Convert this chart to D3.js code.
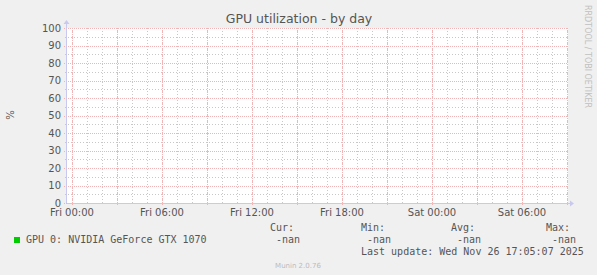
<!DOCTYPE html>
<meta charset="utf-8">
<style>
body { margin: 0; background: #f0f0f0; }
svg { display: block; font-family: "DejaVu Sans", sans-serif; }
.mono { font-family: "DejaVu Sans Mono", monospace; font-size: 10px; fill: #555; }
</style>
<svg width="597" height="275"></svg>
<script src="https://d3js.org/d3.v7.min.js"></script>
<script>

// data
var timeDomain = [new Date(2025, 10, 20, 23, 40), new Date(2025, 10, 22, 9, 4)]
var yTicks = [0, 10, 20, 30, 40, 50, 60, 70, 80, 90, 100]
var gpuTimes = []   // no samples: every value is nan
var gpuValues = []
var seriesName = "GPU 0: NVIDIA GeForce GTX 1070"
var statLabels = ["Cur:", "Min:", "Avg:", "Max:"]
var statValues = ["-nan", "-nan", "-nan", "-nan"]

var svg = d3.select("svg")
var pLeft = 67, pRight = 568, pTop = 28, pBottom = 203

var x = d3.scaleTime().domain(timeDomain).range([pLeft, pRight])
var y = d3.scaleLinear().domain([0, 100]).range([pBottom, pTop])

svg.append("rect").attr("x", pLeft).attr("y", pTop)
  .attr("width", pRight - pLeft).attr("height", pBottom - pTop).attr("fill", "#fff")

// minor grid
var hours = x.ticks(d3.timeHour.every(1))
svg.append("g").selectAll("line").data(hours).enter().append("line")
  .attr("x1", function(d){ return Math.round(x(d)) + 0.5 }).attr("x2", function(d){ return Math.round(x(d)) + 0.5 })
  .attr("y1", pTop).attr("y2", pBottom)
  .attr("stroke", "#c8c8c8").attr("stroke-dasharray", "1,2")
svg.append("g").selectAll("line").data(d3.range(5, 100, 10)).enter().append("line")
  .attr("x1", pLeft - 2).attr("x2", pRight)
  .attr("y1", function(d){ return Math.round(y(d)) + 0.5 }).attr("y2", function(d){ return Math.round(y(d)) + 0.5 })
  .attr("stroke", "#c8c8c8").attr("stroke-dasharray", "1,2")

// major grid
var major = x.ticks(d3.timeHour.every(3))
svg.append("g").selectAll("line").data(major).enter().append("line")
  .attr("x1", function(d){ return Math.round(x(d)) + 0.5 }).attr("x2", function(d){ return Math.round(x(d)) + 0.5 })
  .attr("y1", pTop).attr("y2", pBottom + 3)
  .attr("stroke", "#f0b4b4").attr("stroke-dasharray", "1,1")
svg.append("g").selectAll("line").data(yTicks).enter().append("line")
  .attr("x1", pLeft - 3).attr("x2", pRight)
  .attr("y1", function(d){ return Math.round(y(d)) + 0.5 }).attr("y2", function(d){ return Math.round(y(d)) + 0.5 })
  .attr("stroke", "#f0b4b4").attr("stroke-dasharray", "1,1")

// series line (all nan -> nothing drawn)
var line = d3.line()
  .defined(function(d){ return !isNaN(d[1]) })
  .x(function(d){ return x(d[0]) }).y(function(d){ return y(d[1]) })
svg.append("path").datum(d3.zip(gpuTimes, gpuValues))
  .attr("d", line).attr("fill", "none").attr("stroke", "#00cc00")

// axes
var axisCol = "#c8c8f0"
svg.append("line").attr("x1", pLeft - 0.5).attr("x2", pLeft - 0.5).attr("y1", pBottom).attr("y2", pTop - 4)
  .attr("stroke", axisCol)
svg.append("line").attr("x1", pLeft).attr("x2", pRight + 2).attr("y1", pBottom + 0.5).attr("y2", pBottom + 0.5)
  .attr("stroke", axisCol)
svg.append("path").attr("d", "M" + (pLeft - 3.5) + "," + (pTop - 4) + "L" + (pLeft - 0.5) + "," + (pTop - 8) + "L" + (pLeft + 2.5) + "," + (pTop - 4) + "Z")
  .attr("fill", axisCol)
svg.append("path").attr("d", "M" + (pRight + 2) + "," + (pBottom - 2.5) + "L" + (pRight + 6) + "," + (pBottom + 0.5) + "L" + (pRight + 2) + "," + (pBottom + 3.5) + "Z")
  .attr("fill", axisCol)

// tick labels
var fmt = d3.timeFormat("%a %H:%M")
svg.append("g").selectAll("text").data(x.ticks(d3.timeHour.every(6))).enter().append("text")
  .attr("x", function(d){ return x(d) }).attr("y", 216)
  .attr("text-anchor", "middle").attr("font-size", 10).attr("fill", "#555")
  .text(function(d){ return fmt(d) })
svg.append("g").selectAll("text").data(yTicks).enter().append("text")
  .attr("x", 61).attr("y", function(d){ return y(d) + 3.5 })
  .attr("text-anchor", "end").attr("font-size", 10).attr("fill", "#555")
  .text(function(d){ return d })

// titles
svg.append("text").attr("x", 299).attr("y", 23).attr("text-anchor", "middle")
  .attr("font-size", 12.5).attr("fill", "#555").text("GPU utilization - by day")
svg.append("text").attr("transform", "translate(14,115) rotate(-90)").attr("text-anchor", "middle")
  .attr("font-size", 10).attr("fill", "#555").text("%")
svg.append("text").attr("transform", "translate(585,5) rotate(90)")
  .attr("font-size", 8).attr("fill", "#c0c0c0").text("RRDTOOL / TOBI OETIKER")

// legend
svg.append("rect").attr("x", 14).attr("y", 237).attr("width", 6).attr("height", 6).attr("fill", "#00cc00")
svg.append("text").attr("class", "mono").attr("x", 26).attr("y", 243).attr("xml:space", "preserve").text(seriesName)
var statX = [270, 361, 451, 546]
svg.append("g").selectAll("text").data(statLabels).enter().append("text")
  .attr("class", "mono").attr("x", function(d, i){ return statX[i] }).attr("y", 231).text(function(d){ return d })
svg.append("g").selectAll("text").data(statValues).enter().append("text")
  .attr("class", "mono").attr("x", function(d, i){ return statX[i] + 6 }).attr("y", 243).text(function(d){ return d })
svg.append("text").attr("class", "mono").attr("x", 361).attr("y", 255)
  .text("Last update: Wed Nov 26 17:05:07 2025")
svg.append("text").attr("x", 298).attr("y", 268).attr("text-anchor", "middle")
  .attr("font-size", 7).attr("fill", "#bbb").text("Munin 2.0.76")

</script>
